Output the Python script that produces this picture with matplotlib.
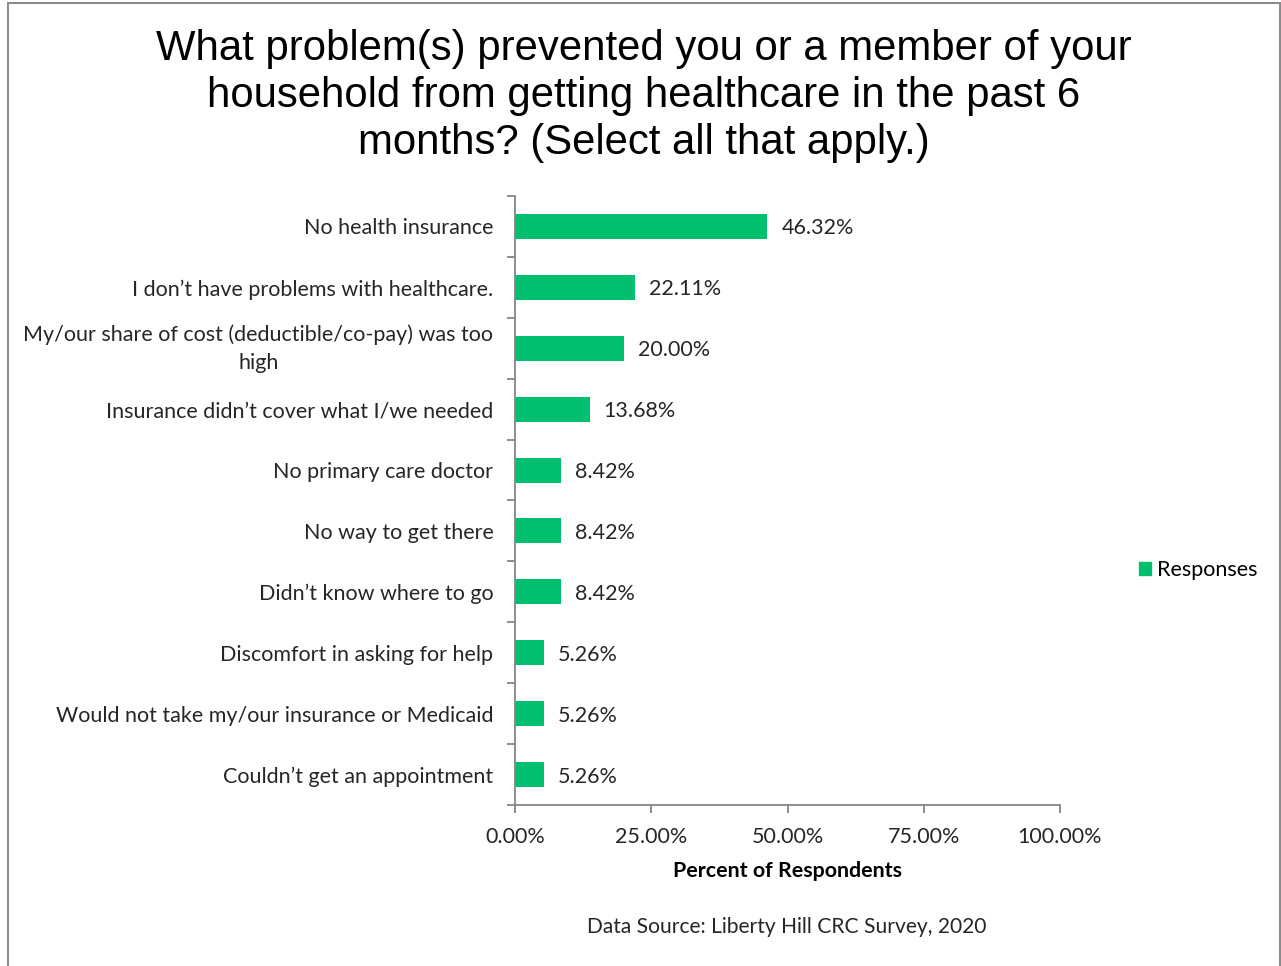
import matplotlib
matplotlib.use("Agg")
import matplotlib.pyplot as plt
from matplotlib.patches import Rectangle
from matplotlib.ticker import FixedLocator

categories = [
    "No health insurance",
    "I don\u2019t have problems with healthcare.",
    "My/our share of cost (deductible/co-pay) was too\nhigh",
    "Insurance didn\u2019t cover what I/we needed",
    "No primary care doctor",
    "No way to get there",
    "Didn\u2019t know where to go",
    "Discomfort in asking for help",
    "Would not take my/our insurance or Medicaid",
    "Couldn\u2019t get an appointment",
]
values = [46.32, 22.11, 20.00, 13.68, 8.42, 8.42, 8.42, 5.26, 5.26, 5.26]
xticks = [0, 25, 50, 75, 100]
xtick_labels = ["0.00%", "25.00%", "50.00%", "75.00%", "100.00%"]
series_name = "Responses"

BAR = "#00BF6F"
AXIS = "#868686"
TXT = "#262626"
label_font = "Lato"
FS = 15.5

W, H = 1281, 966
fig = plt.figure(figsize=(W / 100, H / 100), dpi=100)
fig.patch.set_facecolor("white")

# outer frame
fig.add_artist(Rectangle((7.5 / W, -0.05), (1279.5 - 7.5) / W, 1.05 - 3.5 / H,
                         transform=fig.transFigure, fill=False,
                         edgecolor="#8c8c8c", linewidth=1.5))

ax = fig.add_axes([515 / W, 1 - 805 / H, (1060 - 515) / W, (805 - 196) / H])
n = len(categories)
ypos = list(range(n))
ax.barh(ypos, values, height=0.41, color=BAR, label=series_name, zorder=2)
ax.set_ylim(n - 0.5, -0.5)
ax.set_xlim(0, 100)

for y, v in zip(ypos, values):
    ax.annotate(f"{v:.2f}%", xy=(v, y), xytext=(10, 0), textcoords="offset points",
                ha="left", va="center_baseline", fontsize=FS, color=TXT,
                family=label_font)

ax.set_yticks(ypos)
ax.set_yticklabels(categories, fontsize=FS, color=TXT, family=label_font,
                   multialignment="center", linespacing=1.5)
for lbl in ax.get_yticklabels():
    if "\n" in lbl.get_text():
        lbl.set_va("center")
ax.tick_params(axis="y", length=0, pad=15.5)
ax.yaxis.set_minor_locator(FixedLocator([i - 0.5 for i in range(n + 1)]))
ax.tick_params(axis="y", which="minor", length=6, color=AXIS, width=1.3)

ax.set_xticks(xticks)
ax.set_xticklabels(xtick_labels, fontsize=FS, color=TXT, family=label_font)
ax.tick_params(axis="x", length=6, color=AXIS, width=1.3, pad=9.5)
ax.set_xlabel("Percent of Respondents", fontsize=15.4, fontweight="bold",
              color="black", family=label_font, labelpad=10.5)

for side in ("top", "right"):
    ax.spines[side].set_visible(False)
for side in ("left", "bottom"):
    ax.spines[side].set_color(AXIS)
    ax.spines[side].set_linewidth(1.3)

fig.text(644 / W, 1 - 96 / H,
         "What problem(s) prevented you or a member of your\n"
         "household from getting healthcare in the past 6\n"
         "months? (Select all that apply.)",
         ha="center", va="center", fontsize=30.2, family="Liberation Sans",
         linespacing=1.21, color="black")

fig.legend(handles=[Rectangle((0, 0), 1, 1, color=BAR)], labels=[series_name],
           loc="center left", bbox_to_anchor=(1120 / W, 1 - 570 / H),
           frameon=False, handlelength=0.55, handleheight=0.55, handletextpad=0.25,
           prop={"family": label_font, "size": FS})

fig.text(787 / W, 1 - 927 / H, "Data Source: Liberty Hill CRC Survey, 2020",
         ha="center", va="center", fontsize=15.1, family=label_font, color=TXT)

fig.savefig("out.png", dpi=100, facecolor="white")
